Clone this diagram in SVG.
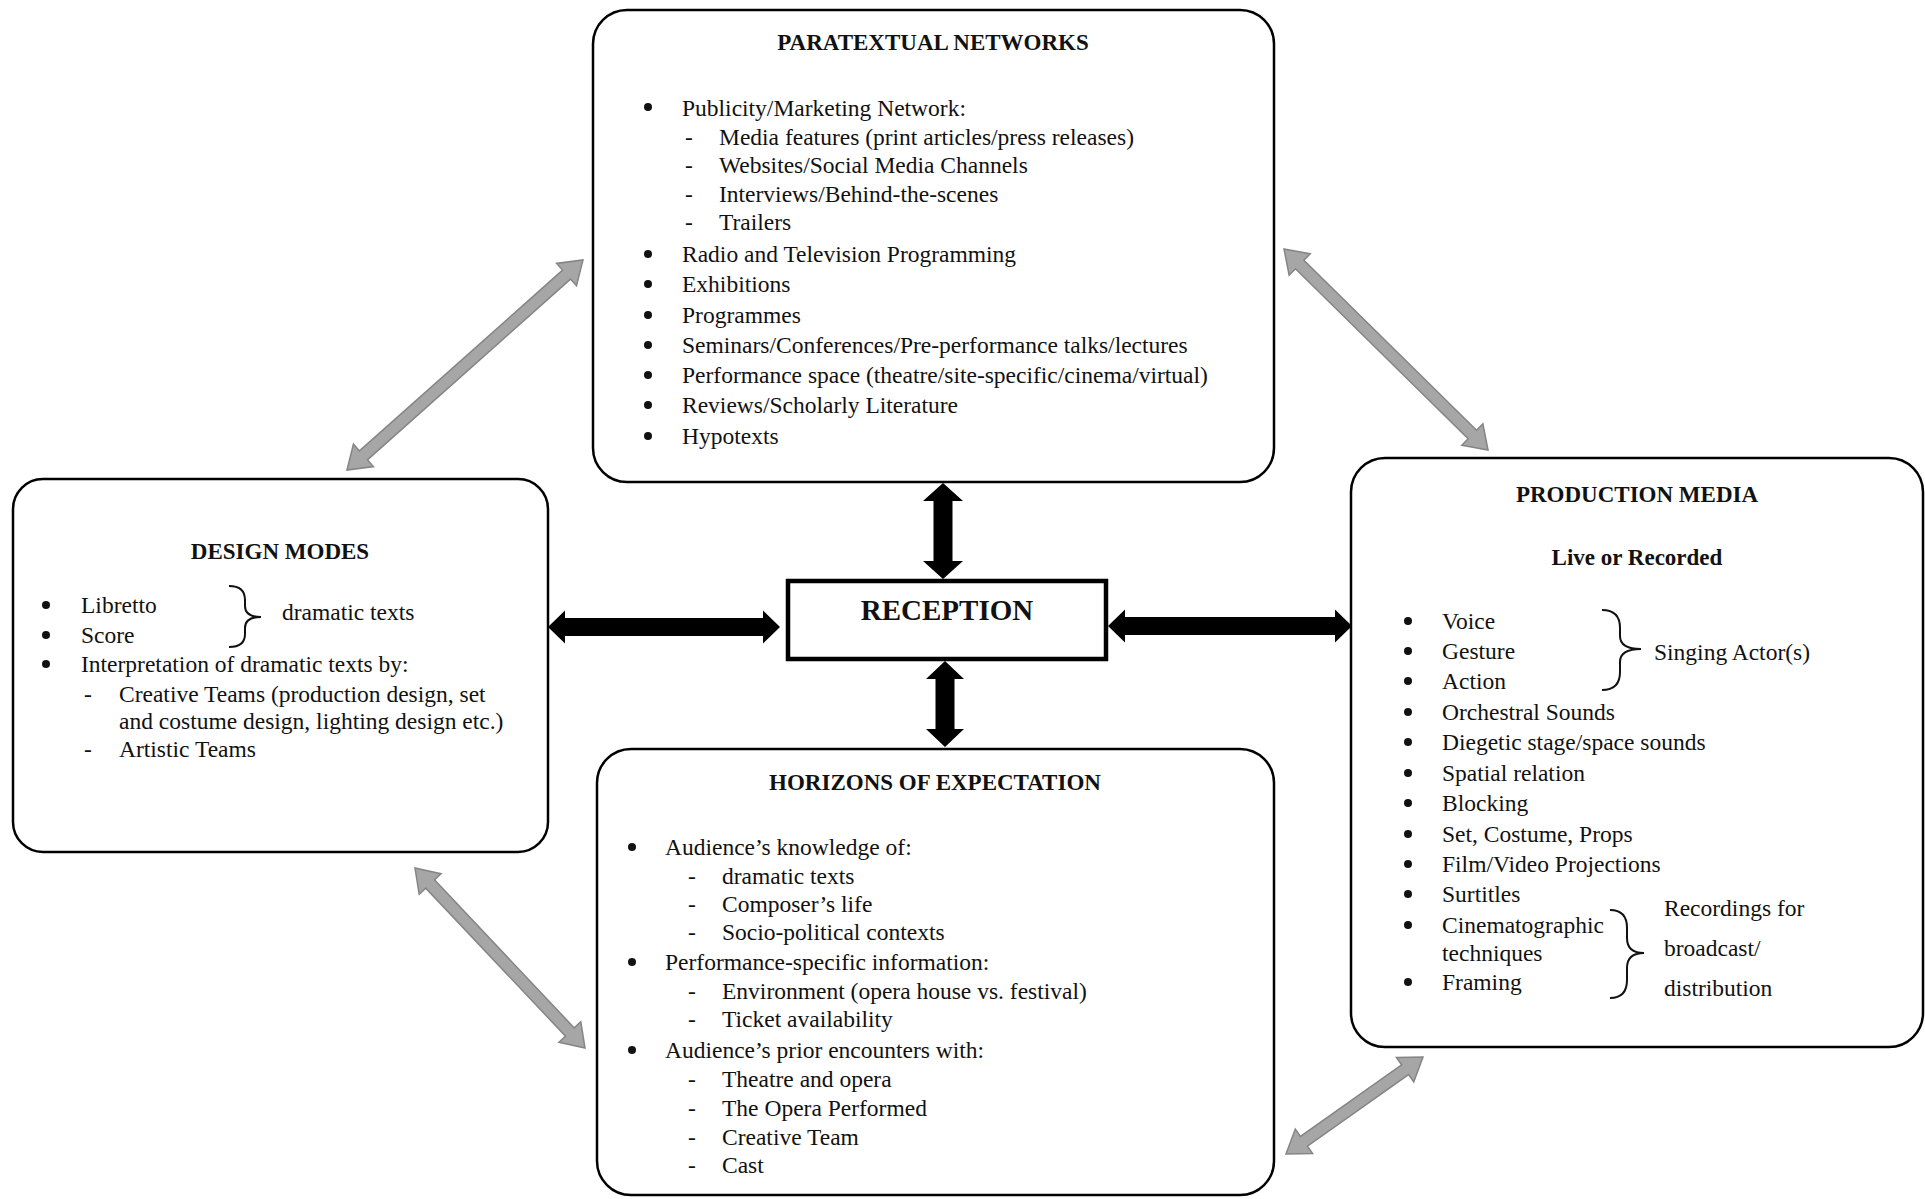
<svg xmlns="http://www.w3.org/2000/svg" width="1925" height="1199" viewBox="0 0 1925 1199">
<style>
.bg{fill:#fff}
.box{fill:#fff;stroke:#000;stroke-width:2.5}
.rec{fill:#fff;stroke:#000;stroke-width:4.5}
.t{font-family:"Liberation Serif","Times New Roman",serif;font-size:23.5px;fill:#111}
.h{font-family:"Liberation Serif","Times New Roman",serif;font-size:23px;font-weight:bold;fill:#111;text-anchor:middle}
.big{font-family:"Liberation Serif","Times New Roman",serif;font-size:29px;font-weight:bold;fill:#111;text-anchor:middle}
.dot{fill:#111}
.brace{fill:none;stroke:#111;stroke-width:2}
.garrow{fill:#a6a6a6;stroke:#858585;stroke-width:1.5;stroke-linejoin:miter}
.barrow{fill:#000}
</style>
<rect class="bg" x="0" y="0" width="1925" height="1199"/>

<g id="paratextual-networks">
<rect class="box" x="593" y="10" width="681" height="472" rx="34"/>
<text class="h" x="933" y="50">PARATEXTUAL NETWORKS</text>
<circle class="dot" cx="648" cy="107" r="4"/>
<text class="t" x="682" y="116">Publicity/Marketing Network:</text>
<text class="t" x="685" y="145">-</text><text class="t" x="719" y="145">Media features (print articles/press releases)</text>
<text class="t" x="685" y="173">-</text><text class="t" x="719" y="173">Websites/Social Media Channels</text>
<text class="t" x="685" y="202">-</text><text class="t" x="719" y="202">Interviews/Behind-the-scenes</text>
<text class="t" x="685" y="230">-</text><text class="t" x="719" y="230">Trailers</text>
<circle class="dot" cx="648" cy="254" r="4"/>
<text class="t" x="682" y="262">Radio and Television Programming</text>
<circle class="dot" cx="648" cy="284" r="4"/>
<text class="t" x="682" y="292">Exhibitions</text>
<circle class="dot" cx="648" cy="315" r="4"/>
<text class="t" x="682" y="323">Programmes</text>
<circle class="dot" cx="648" cy="345" r="4"/>
<text class="t" x="682" y="353">Seminars/Conferences/Pre-performance talks/lectures</text>
<circle class="dot" cx="648" cy="375" r="4"/>
<text class="t" x="682" y="383">Performance space (theatre/site-specific/cinema/virtual)</text>
<circle class="dot" cx="648" cy="405" r="4"/>
<text class="t" x="682" y="413">Reviews/Scholarly Literature</text>
<circle class="dot" cx="648" cy="436" r="4"/>
<text class="t" x="682" y="444">Hypotexts</text>
</g>

<g id="design-modes">
<rect class="box" x="13" y="479" width="535" height="373" rx="30"/>
<text class="h" x="280" y="559">DESIGN MODES</text>
<circle class="dot" cx="46" cy="605" r="4"/>
<text class="t" x="81" y="613">Libretto</text>
<circle class="dot" cx="46" cy="635" r="4"/>
<text class="t" x="81" y="643">Score</text>
<path class="brace" d="M229,586 Q245,586 245,600 L245,606 Q245,617 261,617 Q245,617 245,628 L245,634 Q245,647 229,647"/>
<text class="t" x="282" y="620">dramatic texts</text>
<circle class="dot" cx="46" cy="664" r="4"/>
<text class="t" x="81" y="672">Interpretation of dramatic texts by:</text>
<text class="t" x="84" y="702">-</text><text class="t" x="119" y="702">Creative Teams (production design, set</text>
<text class="t" x="119" y="729">and costume design, lighting design etc.)</text>
<text class="t" x="84" y="757">-</text><text class="t" x="119" y="757">Artistic Teams</text>
</g>

<g id="reception">
<rect class="rec" x="788" y="581" width="318" height="78"/>
<text class="big" x="947" y="620">RECEPTION</text>
</g>

<g id="production-media">
<rect class="box" x="1351" y="458" width="572" height="589" rx="34"/>
<text class="h" x="1637" y="502">PRODUCTION MEDIA</text>
<text class="h" x="1637" y="565">Live or Recorded</text>
<circle class="dot" cx="1408" cy="621" r="4"/><text class="t" x="1442" y="629">Voice</text>
<circle class="dot" cx="1408" cy="651" r="4"/><text class="t" x="1442" y="659">Gesture</text>
<circle class="dot" cx="1408" cy="681" r="4"/><text class="t" x="1442" y="689">Action</text>
<path class="brace" d="M1602,610 Q1620,610 1620,628 L1620,636 Q1620,649 1641,649 Q1620,649 1620,662 L1620,672 Q1620,690 1602,690"/>
<text class="t" x="1654" y="660">Singing Actor(s)</text>
<circle class="dot" cx="1408" cy="712" r="4"/><text class="t" x="1442" y="720">Orchestral Sounds</text>
<circle class="dot" cx="1408" cy="742" r="4"/><text class="t" x="1442" y="750">Diegetic stage/space sounds</text>
<circle class="dot" cx="1408" cy="773" r="4"/><text class="t" x="1442" y="781">Spatial relation</text>
<circle class="dot" cx="1408" cy="803" r="4"/><text class="t" x="1442" y="811">Blocking</text>
<circle class="dot" cx="1408" cy="834" r="4"/><text class="t" x="1442" y="842">Set, Costume, Props</text>
<circle class="dot" cx="1408" cy="864" r="4"/><text class="t" x="1442" y="872">Film/Video Projections</text>
<circle class="dot" cx="1408" cy="894" r="4"/><text class="t" x="1442" y="902">Surtitles</text>
<circle class="dot" cx="1408" cy="925" r="4"/><text class="t" x="1442" y="933">Cinematographic</text>
<text class="t" x="1442" y="961">techniques</text>
<circle class="dot" cx="1408" cy="982" r="4"/><text class="t" x="1442" y="990">Framing</text>
<path class="brace" d="M1610,910 Q1627,910 1627,928 L1627,938 Q1627,953 1644,953 Q1627,953 1627,968 L1627,980 Q1627,998 1610,998"/>
<text class="t" x="1664" y="916">Recordings for</text>
<text class="t" x="1664" y="956">broadcast/</text>
<text class="t" x="1664" y="996">distribution</text>
</g>

<g id="horizons-of-expectation">
<rect class="box" x="597" y="749" width="677" height="446" rx="34"/>
<text class="h" x="935" y="790">HORIZONS OF EXPECTATION</text>
<circle class="dot" cx="632" cy="847" r="4"/>
<text class="t" x="665" y="855">Audience’s knowledge of:</text>
<text class="t" x="688" y="884">-</text><text class="t" x="722" y="884">dramatic texts</text>
<text class="t" x="688" y="912">-</text><text class="t" x="722" y="912">Composer’s life</text>
<text class="t" x="688" y="940">-</text><text class="t" x="722" y="940">Socio-political contexts</text>
<circle class="dot" cx="632" cy="962" r="4"/>
<text class="t" x="665" y="970">Performance-specific information:</text>
<text class="t" x="688" y="999">-</text><text class="t" x="722" y="999">Environment (opera house vs. festival)</text>
<text class="t" x="688" y="1027">-</text><text class="t" x="722" y="1027">Ticket availability</text>
<circle class="dot" cx="632" cy="1050" r="4"/>
<text class="t" x="665" y="1058">Audience’s prior encounters with:</text>
<text class="t" x="688" y="1087">-</text><text class="t" x="722" y="1087">Theatre and opera</text>
<text class="t" x="688" y="1116">-</text><text class="t" x="722" y="1116">The Opera Performed</text>
<text class="t" x="688" y="1145">-</text><text class="t" x="722" y="1145">Creative Team</text>
<text class="t" x="688" y="1173">-</text><text class="t" x="722" y="1173">Cast</text>
</g>

<g id="connectors">
<polygon class="barrow" points="943,483 963,501 952.5,501 952.5,561 963,561 943,579 923,561 933.5,561 933.5,501 923,501"/>
<polygon class="barrow" points="945,661 964,679 954.5,679 954.5,729 964,729 945,747 926,729 935.5,729 935.5,679 926,679"/>
<polygon class="barrow" points="548,627 565,610.5 565,618 763,618 763,610.5 780,627 763,643.5 763,636 565,636 565,643.5"/>
<polygon class="barrow" points="1108,626 1125,609.5 1125,617 1335,617 1335,609.5 1352,626 1335,642.5 1335,635 1125,635 1125,642.5"/>
<polygon class="garrow" transform="translate(347,470) rotate(-41.67)" points="0,0 22,-15 22,-6 293.9,-6 293.9,-15 315.9,0 293.9,15 293.9,6 22,6 22,15"/>
<polygon class="garrow" transform="translate(1284,249) rotate(44.57)" points="0,0 22,-15 22,-6 264.4,-6 264.4,-15 286.4,0 264.4,15 264.4,6 22,6 22,15"/>
<polygon class="garrow" transform="translate(415,868) rotate(46.64)" points="0,0 22,-15 22,-6 225.6,-6 225.6,-15 247.6,0 225.6,15 225.6,6 22,6 22,15"/>
<polygon class="garrow" transform="translate(1286,1154) rotate(-35.30)" points="0,0 22,-15 22,-6 145.9,-6 145.9,-15 167.9,0 145.9,15 145.9,6 22,6 22,15"/>
</g>
</svg>
